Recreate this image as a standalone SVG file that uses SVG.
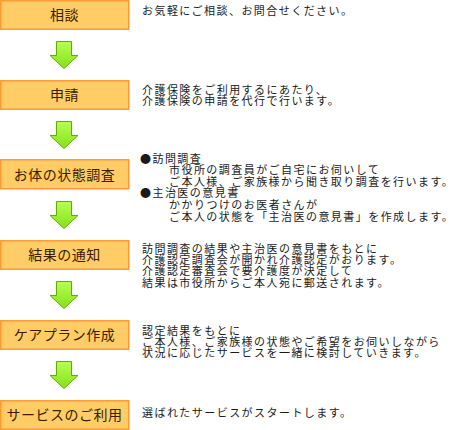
<svg xmlns="http://www.w3.org/2000/svg" width="460" height="430" viewBox="0 0 460 430">
<style>
.box{fill:#ffcc66;stroke:#ff9a33;stroke-width:1.5}
.lbl{font-family:"Noto Sans CJK JP","Noto Sans CJK SC",sans-serif;font-size:14px;fill:#3a1c00;text-anchor:middle;letter-spacing:0.5px}
.desc{font-family:"Noto Sans CJK JP","Noto Sans CJK SC",sans-serif;font-size:11px;fill:#1a1a1a;letter-spacing:1.45px}
.arr{fill:url(#g);stroke:#66aa00;stroke-width:1}
</style>
<defs>
<linearGradient id="g" x1="0" y1="0" x2="0" y2="1">
<stop offset="0" stop-color="#b4ff55"/>
<stop offset="1" stop-color="#88e01a"/>
</linearGradient>
<path id="ar" d="M56.5,0.5 H71.5 V14.5 H78 L64,27.5 L50,14.5 H56.5 Z"/>
</defs>
<g id="connectors">
<use href="#ar" class="arr" transform="translate(0,41)"/>
<use href="#ar" class="arr" transform="translate(0,121)"/>
<use href="#ar" class="arr" transform="translate(0,201)"/>
<use href="#ar" class="arr" transform="translate(0,281)"/>
<use href="#ar" class="arr" transform="translate(0,361)"/>
</g>
<g id="n1">
<rect class="box" x="0.75" y="0.75" width="128" height="28.5"/>
<text class="lbl" x="64.5" y="20">相談</text>
<text class="desc" x="142" y="14.5">お気軽にご相談、お問合せください。</text>
</g>
<g id="n2">
<rect class="box" x="0.75" y="80.75" width="128" height="28.5"/>
<text class="lbl" x="64.5" y="100">申請</text>
<text class="desc" x="142" y="93.5">介護保険をご利用するにあたり、</text>
<text class="desc" x="142" y="104.5">介護保険の申請を代行で行います。</text>
</g>
<g id="n3">
<rect class="box" x="0.75" y="159.75" width="128" height="29"/>
<text class="lbl" x="64.5" y="179.5">お体の状態調査</text>
<text class="desc" x="140" y="162.5">●訪問調査</text>
<text class="desc" x="169" y="174">市役所の調査員がご自宅にお伺いして</text>
<text class="desc" x="169" y="185.5">ご本人様、ご家族様から聞き取り調査を行います。</text>
<text class="desc" x="140" y="197">●主治医の意見書</text>
<text class="desc" x="169" y="209">かかりつけのお医者さんが</text>
<text class="desc" x="169" y="220.5">ご本人の状態を「主治医の意見書」を作成します。</text>
</g>
<g id="n4">
<rect class="box" x="0.75" y="240.75" width="128" height="28.5"/>
<text class="lbl" x="64.5" y="260">結果の通知</text>
<text class="desc" x="142" y="252.5">訪問調査の結果や主治医の意見書をもとに</text>
<text class="desc" x="142" y="263.5">介護認定調査会が開かれ介護認定がおります。</text>
<text class="desc" x="142" y="275">介護認定審査会で要介護度が決定して</text>
<text class="desc" x="142" y="286.5">結果は市役所からご本人宛に郵送されます。</text>
</g>
<g id="n5">
<rect class="box" x="0.75" y="320.75" width="128" height="28.5"/>
<text class="lbl" x="64.5" y="340">ケアプラン作成</text>
<text class="desc" x="142" y="334.5">認定結果をもとに</text>
<text class="desc" x="142" y="345.5">ご本人様、ご家族様の状態やご希望をお伺いしながら</text>
<text class="desc" x="142" y="356.5">状況に応じたサービスを一緒に検討していきます。</text>
</g>
<g id="n6">
<rect class="box" x="0.75" y="400.75" width="128" height="28.5"/>
<text class="lbl" x="64.5" y="420">サービスのご利用</text>
<text class="desc" x="142" y="416.5">選ばれたサービスがスタートします。</text>
</g>
</svg>
